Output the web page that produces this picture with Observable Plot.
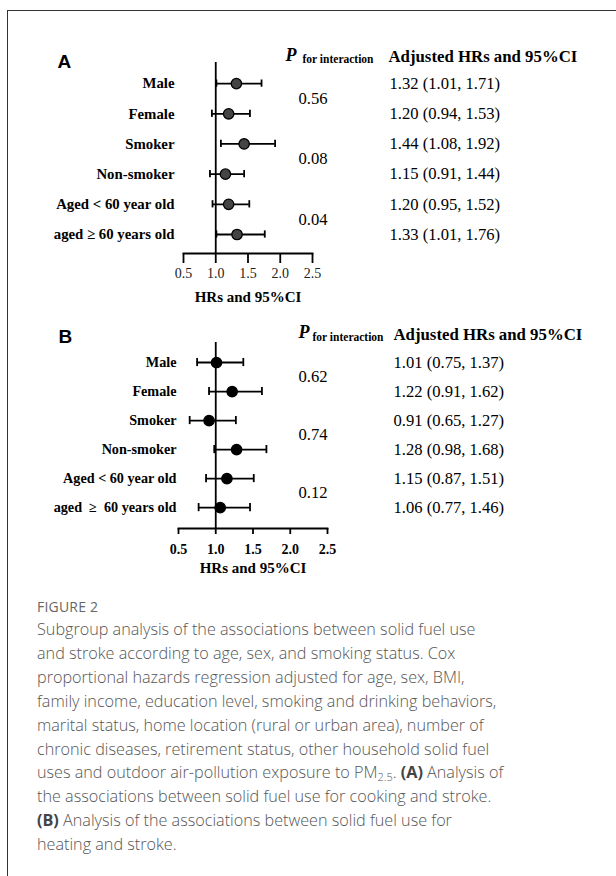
<!DOCTYPE html>
<html>
<head>
<meta charset="utf-8">
<script src="https://cdn.jsdelivr.net/npm/d3@7"></script>
<script src="https://cdn.jsdelivr.net/npm/@observablehq/plot@0.6"></script>
<style>
  html, body { margin: 0; padding: 0; background: #fff; }
  body { width: 616px; height: 876px; position: relative; overflow: hidden; }
  #frameTop { position: absolute; left: 8px; top: 10px; width: 608px; height: 0; border-top: 1.5px solid #333; }
  #frameLeft { position: absolute; left: 7px; top: 10px; width: 0; height: 866px; border-left: 1.5px solid #333; }
  #panelA { position: absolute; left: 0; top: 30px; }
  #panelB { position: absolute; left: 0; top: 310px; }
  #figlabel { position: absolute; left: 37px; top: 597px; font-family: "Open Sans", sans-serif; font-size: 14px; color: #666; letter-spacing: 0.2px; }
  #caption { position: absolute; left: 37px; top: 618px; font-family: "Open Sans", sans-serif; font-weight: 300; font-size: 16.2px; line-height: 23.9px; color: #555; white-space: nowrap; }
  #caption b { font-weight: 700; color: #444; }
  #caption sub { font-size: 11px; line-height: 0; vertical-align: -3px; }
</style>
</head>
<body>
<div id="frameTop"></div>
<div id="frameLeft"></div>
<div id="panelA"></div>
<div id="panelB"></div>
<div id="figlabel">FIGURE 2</div>
<div id="caption">
<div>Subgroup analysis of the associations between solid fuel use</div>
<div>and stroke according to age, sex, and smoking status. Cox</div>
<div>proportional hazards regression adjusted for age, sex, BMI,</div>
<div>family income, education level, smoking and drinking behaviors,</div>
<div>marital status, home location (rural or urban area), number of</div>
<div>chronic diseases, retirement status, other household solid fuel</div>
<div>uses and outdoor air-pollution exposure to PM<sub>2.5</sub>. <b>(A)</b> Analysis of</div>
<div>the associations between solid fuel use for cooking and stroke.</div>
<div><b>(B)</b> Analysis of the associations between solid fuel use for</div>
<div>heating and stroke.</div>
</div>
<script>
// ---- Data ----
const labelsA = ["Male", "Female", "Smoker", "Non-smoker", "Aged < 60 year old", "aged \u2265 60 years old"];
const labelsB = ["Male", "Female", "Smoker", "Non-smoker", "Aged < 60 year old", "aged \u00a0\u2265\u00a0 60 years old"];
const hrA = [1.32, 1.20, 1.44, 1.15, 1.20, 1.33];
const loA = [1.01, 0.94, 1.08, 0.91, 0.95, 1.01];
const hiA = [1.71, 1.53, 1.92, 1.44, 1.52, 1.76];
const pA = ["0.56", "0.08", "0.04"];
const hrB = [1.01, 1.22, 0.91, 1.28, 1.15, 1.06];
const loB = [0.75, 0.91, 0.65, 0.98, 0.87, 0.77];
const hiB = [1.37, 1.62, 1.27, 1.68, 1.51, 1.46];
const pB = ["0.62", "0.74", "0.12"];
const xTicks = [0.5, 1.0, 1.5, 2.0, 2.5];
const xLabel = "HRs and 95%CI";
const headerP = "P";
const headerSub = "for interaction";
const headerHR = "Adjusted HRs and 95%CI";

const serif = "'Liberation Serif', 'Times New Roman', serif";
const sans = "'Liberation Sans', Arial, sans-serif";

function panel(o) {
  const rows = o.labels.map((label, i) => ({i, label, hr: o.hr[i], lo: o.lo[i], hi: o.hi[i],
    text: `${o.hr[i].toFixed(2)} (${o.lo[i].toFixed(2)}, ${o.hi[i].toFixed(2)})`}));
  const ps = o.p.map((p, k) => ({y: 2 * k + 0.5, p}));
  return Plot.plot({
    width: 616,
    height: o.height,
    marginLeft: o.mL,
    marginRight: o.mR,
    marginTop: o.mT,
    marginBottom: o.mB,
    style: {background: "transparent", color: "#000", overflow: "visible"},
    x: {domain: [0.5, 2.5]},
    y: {domain: o.yDomain, reverse: true},
    marks: [
      Plot.ruleX([1], {stroke: "#000", strokeWidth: 1.8}),
      Plot.frame({anchor: "bottom", stroke: "#000", strokeWidth: 1.8}),
      Plot.axisX({ticks: xTicks, tickFormat: d3.format(".1f"), tickSize: o.tickSize, tickPadding: o.tickPad,
        strokeWidth: 1.8, fontSize: o.tickFont, fontWeight: o.tickWeight, fontFamily: serif, fill: o.tickFill, label: null}),
      Plot.axisY({ticks: rows.map(d => d.i), tickFormat: i => o.labels[i], tickSize: 0, tickPadding: o.lblPad,
        fontSize: o.lblFont, fontWeight: "bold", fontFamily: serif, fill: "#000", label: null}),
      Plot.ruleY(rows, {x1: "lo", x2: "hi", y: "i", stroke: "#000", strokeWidth: 1.8}),
      Plot.ruleX(rows, {x: "lo", y1: d => d.i - o.cap, y2: d => d.i + o.cap, stroke: "#000", strokeWidth: 1.8}),
      Plot.ruleX(rows, {x: "hi", y1: d => d.i - o.cap, y2: d => d.i + o.cap, stroke: "#000", strokeWidth: 1.8}),
      Plot.dot(rows, {x: "hr", y: "i", r: o.r, fill: o.dotFill, stroke: "#000", strokeWidth: 1.3}),
      Plot.text(rows, {y: "i", text: "text", frameAnchor: "left", dx: o.hrDx, textAnchor: "start",
        fontFamily: serif, fontSize: 16.6, fill: "#000"}),
      Plot.text(ps, {y: "y", text: "p", frameAnchor: "left", dx: o.pDx, textAnchor: "start",
        fontFamily: serif, fontSize: 16.6, fill: "#000"}),
      Plot.text([headerP], {frameAnchor: "top-left", dx: o.hPDx, dy: o.hPDy, lineAnchor: "bottom", textAnchor: "start",
        fontFamily: serif, fontSize: 18, fontWeight: "bold", fontStyle: "italic", fill: "#000"}),
      Plot.text([headerSub], {frameAnchor: "top-left", dx: o.hSDx, dy: o.hSDy, lineAnchor: "bottom", textAnchor: "start",
        fontFamily: serif, fontSize: 11.5, fontWeight: "bold", fill: "#000"}),
      Plot.text([headerHR], {frameAnchor: "top-left", dx: o.hHDx, dy: o.hHDy, lineAnchor: "bottom", textAnchor: "start",
        fontFamily: serif, fontSize: 16.8, fontWeight: "bold", fill: "#000"}),
      Plot.text([o.letter], {frameAnchor: "top-left", dx: o.letDx, dy: o.letDy, lineAnchor: "bottom", textAnchor: "start",
        fontFamily: sans, fontSize: 19, fontWeight: "bold", fill: "#000"}),
      Plot.text([xLabel], {frameAnchor: "bottom", dy: o.xlDy, lineAnchor: "middle",
        fontFamily: serif, fontSize: 15, fontWeight: "bold", fill: "#000"})
    ]
  });
}

document.getElementById("panelA").append(panel({
  letter: "A", labels: labelsA, hr: hrA, lo: loA, hi: hiA, p: pA,
  height: 280, mL: 183, mR: 304, mT: 32, mB: 57, yDomain: [-0.7, 5.63],
  tickSize: 10, tickPad: 5, tickFont: 14, tickWeight: "normal", tickFill: "#222",
  lblPad: 9, lblFont: 14.8, cap: 0.12, r: 5.2, dotFill: "#444",
  hrDx: 206, pDx: 115, hPDx: 102, hPDy: -1.5, hSDx: 119, hSDy: 0, hHDx: 205, hHDy: -1,
  letDx: -126, letDy: 5, xlDy: 44
}));

document.getElementById("panelB").append(panel({
  letter: "B", labels: labelsB, hr: hrB, lo: loB, hi: hiB, p: pB,
  height: 270, mL: 178, mR: 289, mT: 32, mB: 52, yDomain: [-0.69, 5.72],
  tickSize: 6, tickPad: 10, tickFont: 14, tickWeight: "bold", tickFill: "#000",
  lblPad: 2, lblFont: 14.2, cap: 0.14, r: 5.2, dotFill: "#000",
  hrDx: 215, pDx: 120, hPDx: 120, hPDy: -5, hSDx: 134, hSDy: -2, hHDx: 215, hHDy: -3,
  letDx: -120, letDy: 0, xlDy: 40
}));
</script>
</body>
</html>
